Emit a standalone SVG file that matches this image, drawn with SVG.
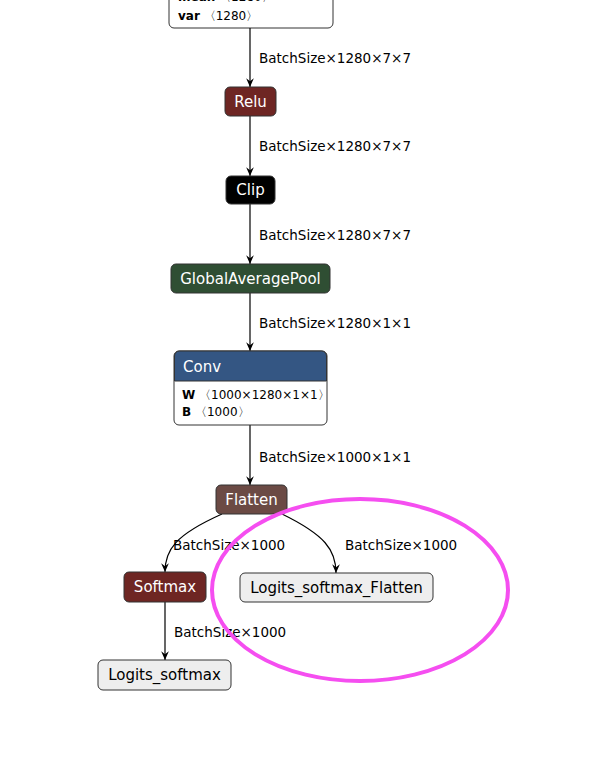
<svg xmlns="http://www.w3.org/2000/svg" width="615" height="778" viewBox="0 0 615 778">
<style>
text{font-family:"DejaVu Sans","Liberation Sans",sans-serif;font-size:13.5px;fill:#000}
.n{stroke:#333;stroke-width:1}
.w{fill:#fff}
.lbl{fill:#fff;font-size:15px;text-anchor:middle}
.e{stroke:#000;stroke-width:1.2;fill:none;marker-end:url(#a)}
.b{font-weight:bold}
.s{font-size:12px}
</style>
<defs><marker id="a" viewBox="0 0 10 10" refX="9" refY="5" markerWidth="8" markerHeight="8" orient="auto"><path d="M0,1 L9,5 L0,9 L3,5 z" fill="#000"/></marker></defs>
<rect width="615" height="778" fill="#fff"/>
<g id="bn"><rect class="n w" x="169" y="-30" width="164" height="58" rx="5"/><text class="s" x="178" y="1"><tspan class="b">mean</tspan> 〈1280〉</text><text class="s" x="178" y="20"><tspan class="b">var</tspan> 〈1280〉</text></g>
<g id="connectors">
<path class="e" d="M250,28 V87"/><text x="259" y="63">BatchSize×1280×7×7</text>
<path class="e" d="M250,116 V176"/><text x="259" y="151">BatchSize×1280×7×7</text>
<path class="e" d="M250,204 V264"/><text x="259" y="240">BatchSize×1280×7×7</text>
<path class="e" d="M250,293 V351"/><text x="259" y="328">BatchSize×1280×1×1</text>
<path class="e" d="M250,425 V485"/><text x="259" y="462">BatchSize×1000×1×1</text>
<path class="e" d="M222,514 C175,535 165,550 165,572"/><text x="173" y="550">BatchSize×1000</text>
<path class="e" d="M282,514 C325,535 336,550 336,573"/><text x="345" y="550">BatchSize×1000</text>
<path class="e" d="M165,602 V660"/><text x="174" y="637">BatchSize×1000</text>
</g>
<g id="relu"><rect class="n" fill="#6e2623" x="225" y="87" width="51" height="29" rx="5"/><text class="lbl" x="250.5" y="107">Relu</text></g>
<g id="clip"><rect class="n" fill="#000" x="226" y="176" width="49" height="28" rx="5"/><text class="lbl" x="250.5" y="195">Clip</text></g>
<g id="gap"><rect class="n" fill="#2f4e33" x="171" y="264" width="159" height="29" rx="5"/><text class="lbl" x="250.5" y="284">GlobalAveragePool</text></g>
<g id="conv"><rect class="n w" x="174" y="351" width="153" height="74" rx="5"/><path d="M174.5,381 V356 a5,5 0 0 1 5,-5 H321.5 a5,5 0 0 1 5,5 V381 Z" fill="#345683" stroke="#333"/><text class="lbl" x="183" y="372" style="text-anchor:start">Conv</text><text class="s" x="182" y="399"><tspan class="b">W</tspan> 〈1000×1280×1×1〉</text><text class="s" x="182" y="416"><tspan class="b">B</tspan> 〈1000〉</text></g>
<g id="flatten"><rect class="n" fill="#6b4a44" x="216" y="485" width="71" height="29" rx="5"/><text class="lbl" x="251.5" y="505">Flatten</text></g>
<g id="softmax"><rect class="n" fill="#6e2623" x="124" y="572" width="82" height="30" rx="5"/><text class="lbl" x="165" y="592">Softmax</text></g>
<g id="out1"><rect class="n" fill="#eee" x="240" y="573" width="193" height="29" rx="5"/><text x="336.5" y="593" style="text-anchor:middle;font-size:15px">Logits_softmax_Flatten</text></g>
<g id="out2"><rect class="n" fill="#eee" x="98" y="660" width="133" height="30" rx="5"/><text x="164.5" y="680" style="text-anchor:middle;font-size:15px">Logits_softmax</text></g>
<ellipse cx="360" cy="590" rx="148" ry="91" fill="none" stroke="#f54ef0" stroke-width="4"/>
</svg>
